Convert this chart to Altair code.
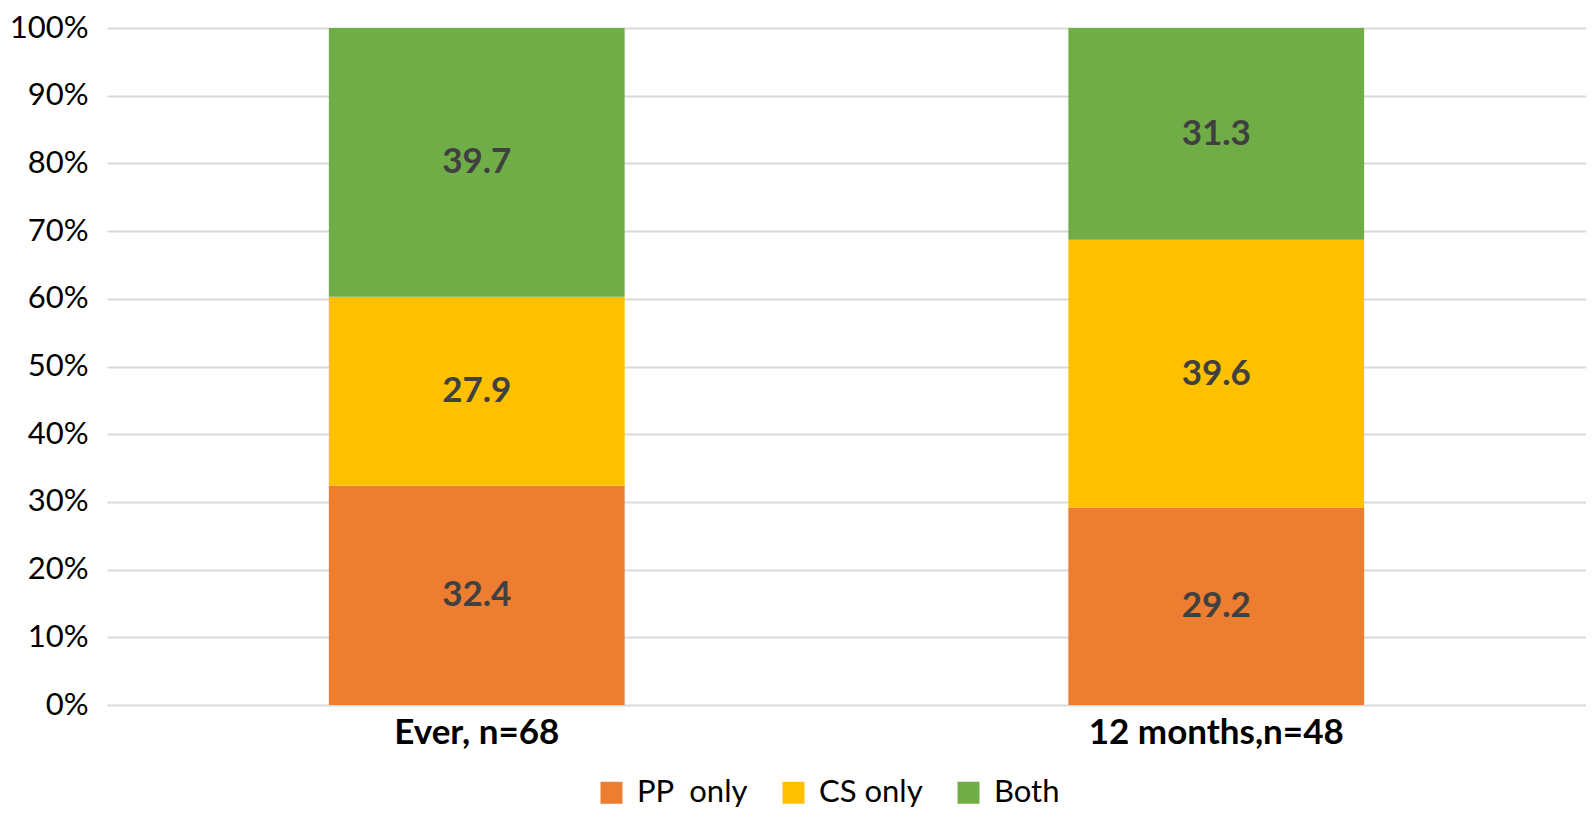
import altair as alt
import pandas as pd

categories = ["Ever, n=68", "12 months,n=48"]
series = ["PP\u00a0 only", "CS only", "Both"]
pp_only = [32.4, 29.2]
cs_only = [27.9, 39.6]
both = [39.7, 31.3]
colors = ["#ED7D31", "#FFC000", "#70AD47"]
y_ticks = [0, 0.1, 0.2, 0.3, 0.4, 0.5, 0.6, 0.7, 0.8, 0.9, 1.0]

rows = []
for i, c in enumerate(categories):
    for j, (s, vals) in enumerate(zip(series, [pp_only, cs_only, both])):
        rows.append({"cat": c, "series": s, "value": vals[i], "order": j})
df = pd.DataFrame(rows)

FONT = "Lato"

base = alt.Chart(df).transform_stack(
    stack="value", as_=["y0", "y1"], groupby=["cat"],
    sort=[alt.SortField("order", order="ascending")], offset="normalize"
).transform_calculate(mid="(datum.y0 + datum.y1) / 2")

xenc = alt.X("cat:N", sort=categories, title=None,
             scale=alt.Scale(paddingInner=0.6, paddingOuter=0.3),
             axis=alt.Axis(labelAngle=0, labelFont=FONT, labelFontSize=35,
                           labelFontWeight="bold", labelColor="#000000",
                           labelLimit=600, labelPadding=10,
                           domain=False, ticks=False))

bars = base.mark_bar().encode(
    x=xenc,
    y=alt.Y("y0:Q", title=None, scale=alt.Scale(domain=[0, 1]),
            axis=alt.Axis(values=y_ticks, format=".0%", labelFont=FONT,
                          labelFontSize=31, labelColor="#000000",
                          labelPadding=19, domain=False, ticks=False,
                          gridColor="#D9D9D9", gridWidth=2)),
    y2="y1:Q",
    color=alt.Color("series:N", sort=series,
                    scale=alt.Scale(domain=series, range=colors),
                    legend=alt.Legend(title=None, orient="none", direction="horizontal",
                                      legendX=489, legendY=749,
                                      symbolType="square", symbolSize=484,
                                      symbolStrokeWidth=0, labelFont=FONT,
                                      labelFontSize=31, labelColor="#000000",
                                      labelLimit=400,
                                      columnPadding=30, labelOffset=10)),
)

labels = base.mark_text(font=FONT, fontSize=35, fontWeight="bold", color="#404040").encode(
    x=alt.X("cat:N", sort=categories),
    y=alt.Y("mid:Q"),
    text=alt.Text("value:Q", format=".1f"),
)

chart = alt.layer(bars, labels).properties(
    width=1479, height=677,
    autosize=alt.AutoSizeParams(type="none"),
    padding={"left": 99, "top": 20, "right": 0, "bottom": 105},
).configure_view(stroke=None)

chart.save("out.html", embed_options={"renderer": "svg", "actions": False})
